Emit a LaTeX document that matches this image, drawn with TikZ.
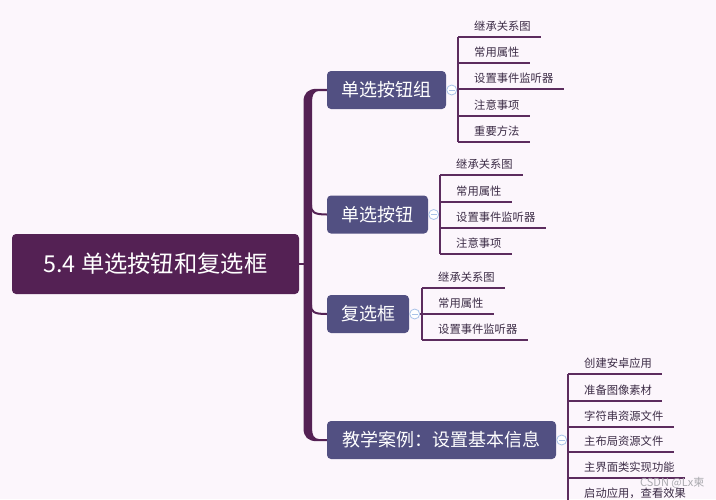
\documentclass[tikz,border=0pt]{standalone}
\usepackage{fontspec}
\newfontfamily\cjk{Noto Sans CJK SC}
\definecolor{bgc}{RGB}{252,246,252}
\definecolor{rootc}{RGB}{84,33,84}
\definecolor{topicc}{RGB}{82,80,130}
\definecolor{linec}{RGB}{92,44,94}
\definecolor{leaftext}{RGB}{60,44,70}
\definecolor{foldc}{RGB}{170,195,232}
\definecolor{wmc}{RGB}{170,170,175}
\tikzset{
  rootnode/.style={fill=rootc, rounded corners=4pt, text=white, font=\cjk\fontsize{23.3}{27}\selectfont, minimum width=287pt, minimum height=60pt, inner sep=0pt},
  topic/.style={fill=topicc, rounded corners=4pt, text=white, font=\cjk\fontsize{18}{22}\selectfont, minimum height=38pt, inner sep=0pt},
  leaf/.style={font=\cjk\fontsize{11.3}{13}\selectfont, text=leaftext, inner xsep=0pt, inner ysep=3.6pt, text height=9pt, text depth=2.3pt, anchor=south west, execute at begin node={\hspace*{16pt}}, execute at end node={\hspace*{10pt}}},
  leafline/.style={draw=linec, line width=1.6pt},
  fold/.style={circle, draw=foldc, fill=white, minimum size=10pt, inner sep=0pt, line width=0.8pt},
  trunkline/.style={draw=rootc, line width=2pt}
}
\begin{document}
\begin{tikzpicture}[x=1pt,y=-1pt]
\useasboundingbox (0,0) rectangle (716,499);
\clip (0,0) rectangle (716,499);
\fill[bgc] (0,0) rectangle (716,499);

% trunk
\fill[rootc] (327,88.8) -- (317,88.8) .. controls (308,88.8) and (303.5,93) .. (303.5,102) -- (303.5,428) .. controls (303.5,437) and (308,441.2) .. (317,441.2) -- (327,441.2) -- (327,439) -- (319,439) .. controls (314,439) and (312,435) .. (312,428) -- (312,102) .. controls (312,95) and (314,91) .. (319,91) -- (327,91) -- cycle;

% root
\node[rootnode] (r) at (155.5,264) {5.4 单选按钮和复选框};
% topics
\node[topic, minimum width=119pt] (t1) at (386.5,90) {单选按钮组};
\node[topic, minimum width=101pt] (t2) at (377.5,214.5) {单选按钮};
\node[topic, minimum width=82pt] (t3) at (368,314) {复选框};
\node[topic, minimum width=229pt] (t4) at (441.5,440) {教学案例：设置基本信息};

\draw[trunkline] (r.east) -- ([xshift=5pt]r.east);
\draw[trunkline] (311,205) .. controls (311,212) and (314,214.5) .. (t2.west);
\draw[trunkline] (311,305) .. controls (311,312) and (314,314) .. (t3.west);

% fold circles
\node[fold] (f1) at ([xshift=5.5pt]t1.east) {};
\node[fold] (f2) at ([xshift=5.5pt]t2.east) {};
\node[fold] (f3) at ([xshift=5.5pt]t3.east) {};
\node[fold] (f4) at ([xshift=5.5pt]t4.east) {};

% leaves of topic 1
\node[leaf] (a1) at (458,37) {继承关系图};
\node[leaf] (a2) at (458,63) {常用属性};
\node[leaf] (a3) at (458,89) {设置事件监听器};
\node[leaf] (a4) at (458,116) {注意事项};
\node[leaf] (a5) at (458,142) {重要方法};
% leaves of topic 2
\node[leaf] (b1) at (440,175) {继承关系图};
\node[leaf] (b2) at (440,202) {常用属性};
\node[leaf] (b3) at (440,228) {设置事件监听器};
\node[leaf] (b4) at (440,254) {注意事项};
% leaves of topic 3
\node[leaf] (c1) at (422,288) {继承关系图};
\node[leaf] (c2) at (422,314) {常用属性};
\node[leaf] (c3) at (422,340) {设置事件监听器};
% leaves of topic 4
\node[leaf] (d1) at (568,374) {创建安卓应用};
\node[leaf] (d2) at (568,401) {准备图像素材};
\node[leaf] (d3) at (568,427) {字符串资源文件};
\node[leaf] (d4) at (568,452) {主布局资源文件};
\node[leaf] (d5) at (568,478) {主界面类实现功能};
\node[leaf] (d6) at (568,504) {启动应用，查看效果};

\foreach \n in {a1,a2,a3,a4,a5,b1,b2,b3,b4,c1,c2,c3,d1,d2,d3,d4,d5,d6}
  \draw[leafline] (\n.south west) -- (\n.south east);
\draw[leafline] (a1.south west) -- (a5.south west);
\draw[leafline] (b1.south west) -- (b4.south west);
\draw[leafline] (c1.south west) -- (c3.south west);
\draw[leafline] (d1.south west) -- (d6.south west);

\draw[leafline] (f1.east) -- (f1.east -| a1.south west);
\draw[leafline] (f2.east) -- (f2.east -| b1.south west);
\draw[leafline] (f3.east) -- (f3.east -| c1.south west);
\draw[leafline] (f4.east) -- (f4.east -| d1.south west);

\foreach \f in {f1,f2,f3,f4}
  \draw[foldc, line width=0.8pt] ([xshift=2.5pt]\f.west) -- ([xshift=-2.5pt]\f.east);

% watermark
\node[text=wmc, font=\cjk\fontsize{11}{13}\selectfont, inner sep=0pt, anchor=west] (wm) at (640,483) {CSDN @Lx柬};
\end{tikzpicture}
\end{document}
